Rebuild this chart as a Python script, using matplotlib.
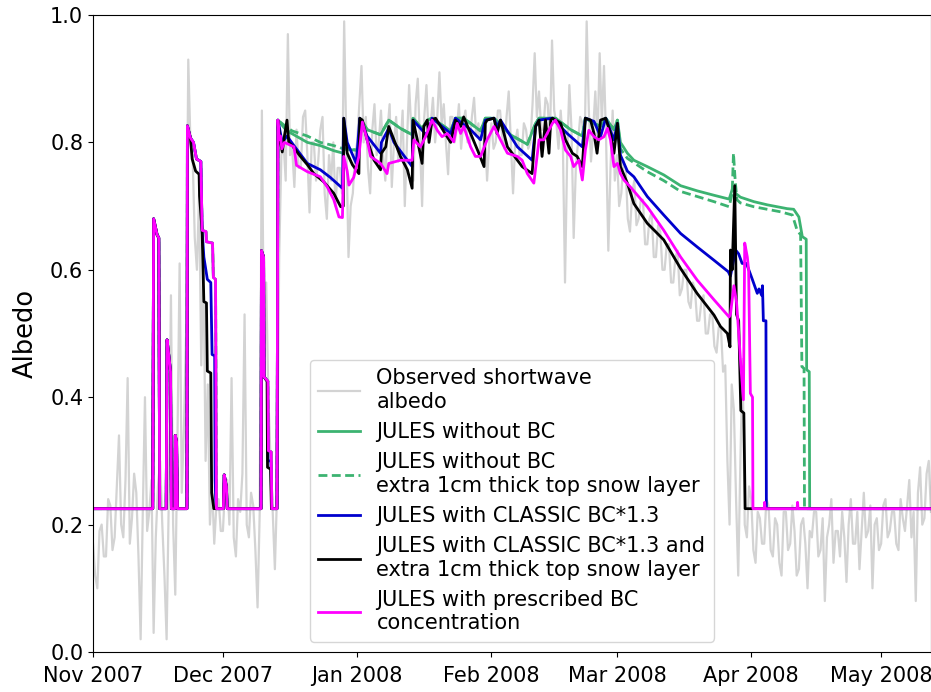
import numpy as np
import pandas as pd
import matplotlib
matplotlib.use("Agg")
import matplotlib.pyplot as plt
import matplotlib.dates as mdates

start = pd.Timestamp("2007-11-01")
x_end = 193.4  # days after start
B = 0.225      # snow-free surface albedo

# observed shortwave albedo, two values per day from 1 Nov 2007
obs_alb = [
    0.17, 0.12, 0.10, 0.19, 0.20, 0.15, 0.15, 0.24, 0.23, 0.16,
    0.18, 0.26, 0.34, 0.20, 0.18, 0.27, 0.43, 0.17, 0.21, 0.28,
    0.25, 0.15, 0.02, 0.22, 0.40, 0.19, 0.22, 0.27, 0.03, 0.18,
    0.26, 0.30, 0.20, 0.12, 0.02, 0.24, 0.56, 0.20, 0.09, 0.33,
    0.61, 0.25, 0.35, 0.50, 0.93, 0.80, 0.78, 0.65, 0.60, 0.72,
    0.45, 0.62, 0.30, 0.42, 0.20, 0.26, 0.17, 0.23, 0.24, 0.19,
    0.19, 0.26, 0.27, 0.20, 0.43, 0.18, 0.15, 0.24, 0.22, 0.28,
    0.53, 0.20, 0.18, 0.25, 0.23, 0.16, 0.07, 0.22, 0.85, 0.45,
    0.58, 0.40, 0.30, 0.22, 0.13, 0.25, 0.62, 0.78, 0.80, 0.74,
    0.97, 0.78, 0.79, 0.73, 0.82, 0.76, 0.76, 0.84, 0.85, 0.78,
    0.69, 0.80, 0.80, 0.74, 0.77, 0.82, 0.84, 0.72, 0.68, 0.78,
    0.74, 0.80, 0.70, 0.76, 0.76, 0.72, 0.99, 0.80, 0.62, 0.70,
    0.72, 0.78, 0.80, 0.86, 0.92, 0.80, 0.84, 0.76, 0.72, 0.82,
    0.86, 0.78, 0.80, 0.85, 0.78, 0.74, 0.82, 0.86, 0.73, 0.80,
    0.84, 0.77, 0.79, 0.85, 0.70, 0.80, 0.89, 0.82, 0.74, 0.86,
    0.90, 0.80, 0.70, 0.84, 0.89, 0.81, 0.83, 0.87, 0.80, 0.84,
    0.91, 0.83, 0.86, 0.80, 0.75, 0.84, 0.84, 0.80, 0.82, 0.86,
    0.79, 0.83, 0.85, 0.80, 0.80, 0.84, 0.87, 0.81, 0.83, 0.78,
    0.78, 0.82, 0.74, 0.80, 0.83, 0.79, 0.80, 0.85, 0.85, 0.81,
    0.79, 0.84, 0.88, 0.80, 0.72, 0.80, 0.82, 0.78, 0.78, 0.83,
    0.82, 0.79, 0.80, 0.86, 0.94, 0.84, 0.88, 0.82, 0.82, 0.87,
    0.86, 0.80, 0.96, 0.85, 0.83, 0.79, 0.85, 0.80, 0.58, 0.78,
    0.89, 0.82, 0.65, 0.76, 0.80, 0.84, 0.83, 0.78, 0.99, 0.85,
    0.77, 0.82, 0.88, 0.80, 0.94, 0.83, 0.92, 0.80, 0.63, 0.76,
    0.85, 0.74, 0.78, 0.70, 0.72, 0.77, 0.76, 0.68, 0.66, 0.72,
    0.74, 0.67, 0.68, 0.71, 0.71, 0.64, 0.64, 0.68, 0.69, 0.62,
    0.62, 0.67, 0.66, 0.60, 0.60, 0.64, 0.64, 0.58, 0.58, 0.62,
    0.63, 0.56, 0.57, 0.60, 0.60, 0.55, 0.54, 0.58, 0.57, 0.52,
    0.52, 0.55, 0.56, 0.50, 0.50, 0.53, 0.53, 0.48, 0.47, 0.51,
    0.51, 0.44, 0.45, 0.30, 0.20, 0.42, 0.38, 0.24, 0.12, 0.30,
    0.46, 0.20, 0.18, 0.26, 0.24, 0.16, 0.14, 0.22, 0.21, 0.17,
    0.17, 0.24, 0.23, 0.16, 0.15, 0.21, 0.20, 0.14, 0.12, 0.22,
    0.22, 0.16, 0.17, 0.23, 0.19, 0.12, 0.13, 0.20, 0.21, 0.17,
    0.10, 0.19, 0.18, 0.22, 0.22, 0.15, 0.16, 0.21, 0.08, 0.18,
    0.20, 0.24, 0.14, 0.19, 0.19, 0.15, 0.22, 0.18, 0.11, 0.20,
    0.24, 0.17, 0.17, 0.22, 0.13, 0.19, 0.25, 0.18, 0.19, 0.23,
    0.10, 0.20, 0.21, 0.16, 0.17, 0.23, 0.24, 0.18, 0.19, 0.22,
    0.22, 0.17, 0.16, 0.24, 0.21, 0.19, 0.23, 0.27, 0.18, 0.22,
    0.08, 0.25, 0.29, 0.20, 0.21, 0.28, 0.30, 0.22,
]

# model runs as (day, albedo) breakpoints
# early November snowfalls, identical in every run
nov_pulses = [
    (0.0, B), (13.8, B), (14.0, 0.68), (14.8, 0.655), (15.2, 0.65), (15.4, B),
    (16.9, B), (17.1, 0.49), (17.6, 0.46), (17.9, 0.44), (18.1, B),
    (18.9, B), (19.0, 0.34), (19.3, 0.33), (19.5, B),
]

# late Nov / mid Dec events for the runs with less darkening
late_nov = [
    (21.7, B), (21.8, 0.826), (22.5, 0.807), (23.2, 0.80), (23.9, 0.774),
    (24.9, 0.77), (25.2, 0.662), (26.1, 0.66), (26.2, 0.644), (27.6, 0.642),
    (27.8, 0.588), (28.3, 0.585), (28.5, B), (30.1, B), (30.3, 0.278),
    (30.8, 0.26), (31.0, B),
    (38.8, B), (38.9, 0.63), (39.4, 0.62), (39.5, 0.432), (40.4, 0.425),
    (40.5, 0.316), (41.15, 0.314), (41.3, B),
]

nobc_winter = [
    (42.5, B), (42.7, 0.835), (44.5, 0.82), (45.6, 0.815), (49.5, 0.80),
    (52.5, 0.795), (55.6, 0.787), (57.8, 0.783), (58.0, 0.79), (61.4, 0.787),
]
nobc_1cm_winter = [
    (42.5, B), (42.7, 0.835), (44.5, 0.825), (46.0, 0.818), (49.5, 0.81),
    (52.5, 0.80), (55.6, 0.795), (57.8, 0.79), (61.4, 0.788),
]

# Jan - Feb, shared by both runs without BC
nobc_mid = [
    (62.0, 0.835), (63.3, 0.82), (66.4, 0.812), (67.9, 0.83), (68.3, 0.835),
    (71.0, 0.822), (73.7, 0.812), (73.9, 0.838), (76.0, 0.822), (77.2, 0.835),
    (78.3, 0.838), (82.6, 0.818), (83.7, 0.838), (85.6, 0.838), (89.5, 0.818),
    (90.6, 0.838), (92.6, 0.838), (96.4, 0.812), (100.3, 0.797), (102.2, 0.83),
    (103.0, 0.838), (106.8, 0.838), (110.3, 0.82), (113.0, 0.81),
    (113.7, 0.838), (115.7, 0.83), (117.2, 0.825), (118.4, 0.838),
    (120.3, 0.82), (121.1, 0.835),
]

nobc_spring = [
    (121.8, 0.80), (123.4, 0.783), (124.9, 0.772), (128.0, 0.762),
    (131.8, 0.749), (135.7, 0.732), (139.5, 0.724), (143.4, 0.717),
    (146.9, 0.711), (147.8, 0.73), (148.4, 0.72), (149.5, 0.714),
    (152.6, 0.707), (155.7, 0.702), (160.3, 0.696), (161.8, 0.695),
    (163.0, 0.683), (163.8, 0.652), (164.7, 0.648), (164.8, 0.443),
    (165.4, 0.44), (165.5, B), (193.5, B),
]
nobc_1cm_spring = [
    (121.8, 0.79), (123.4, 0.775), (128.0, 0.754), (131.8, 0.74),
    (135.7, 0.723), (143.4, 0.707), (146.9, 0.699), (147.6, 0.72),
    (147.9, 0.783), (148.3, 0.74), (148.7, 0.71), (149.5, 0.705),
    (152.6, 0.699), (158.8, 0.691), (161.5, 0.686), (162.6, 0.662),
    (163.4, 0.655), (163.7, 0.448), (164.2, 0.445), (164.3, B), (193.5, B),
]

bc13_run = [
    (21.7, B), (21.8, 0.826), (22.5, 0.807), (23.2, 0.80), (23.9, 0.774),
    (24.9, 0.77), (25.2, 0.662), (25.6, 0.62), (26.4, 0.585), (27.2, 0.58),
    (27.5, 0.467), (28.1, 0.465), (28.2, 0.27), (28.4, B),
    (30.1, B), (30.3, 0.278), (30.8, 0.26), (31.0, B),
    (38.8, B), (38.9, 0.63), (39.4, 0.62), (39.5, 0.432), (40.3, 0.425),
    (40.4, 0.30), (41.1, 0.30), (41.25, B),
    (42.5, B), (42.7, 0.835), (43.7, 0.80), (44.8, 0.81), (46.4, 0.795),
    (49.5, 0.767), (52.5, 0.757), (54.8, 0.745), (57.6, 0.728), (57.9, 0.838),
    (58.7, 0.80), (60.8, 0.767), (61.6, 0.838), (63.3, 0.81), (66.4, 0.783),
    (66.6, 0.80), (68.3, 0.822), (69.5, 0.80), (73.7, 0.762), (73.9, 0.835),
    (77.2, 0.81), (78.3, 0.838), (82.6, 0.814), (83.7, 0.838), (87.2, 0.82),
    (89.5, 0.804), (90.6, 0.835), (92.6, 0.838), (93.3, 0.825), (94.1, 0.835),
    (98.0, 0.793), (101.4, 0.772), (102.2, 0.825), (103.0, 0.835),
    (106.1, 0.838), (109.5, 0.814), (113.0, 0.793), (113.7, 0.838),
    (115.7, 0.833), (117.2, 0.809), (118.4, 0.838), (120.3, 0.804),
    (121.1, 0.83), (121.8, 0.78), (123.4, 0.755), (124.9, 0.746),
    (128.0, 0.715), (131.8, 0.686), (135.7, 0.657), (139.5, 0.636),
    (143.4, 0.615), (146.7, 0.597), (147.2, 0.59), (148.4, 0.631),
    (149.1, 0.625), (149.9, 0.61), (150.9, 0.61), (152.2, 0.586),
    (153.4, 0.563), (153.8, 0.57), (154.4, 0.56), (154.6, 0.575),
    (154.8, 0.52), (155.4, 0.52), (155.5, B), (193.5, B),
]

bc13_1cm_run = [
    (21.7, B), (21.8, 0.826), (22.5, 0.807), (22.9, 0.774), (23.7, 0.755),
    (24.5, 0.75), (24.6, 0.716), (25.2, 0.66), (25.6, 0.55), (26.2, 0.548),
    (26.4, 0.441), (27.2, 0.438), (27.4, 0.25), (27.9, B),
    (30.1, B), (30.3, 0.278), (30.8, 0.26), (31.0, B),
    (38.8, B), (38.9, 0.63), (39.4, 0.62), (39.5, 0.432), (40.2, 0.425),
    (40.3, 0.29), (41.0, 0.287), (41.2, B),
    (42.5, B), (42.7, 0.835), (43.3, 0.80), (43.7, 0.785), (44.2, 0.81),
    (44.8, 0.835), (45.2, 0.80), (46.0, 0.795), (47.9, 0.778), (49.5, 0.765),
    (51.0, 0.751), (53.3, 0.738), (55.6, 0.72), (57.2, 0.699), (57.8, 0.70),
    (57.9, 0.838), (58.7, 0.783), (59.9, 0.765), (61.4, 0.751), (61.6, 0.838),
    (62.2, 0.835), (63.3, 0.804), (64.9, 0.772), (66.4, 0.757), (66.6, 0.783),
    (67.6, 0.793), (68.3, 0.825), (69.5, 0.804), (71.0, 0.778), (72.6, 0.757),
    (73.7, 0.728), (73.9, 0.835), (74.9, 0.804), (76.0, 0.767), (76.4, 0.825),
    (77.2, 0.835), (77.6, 0.80), (78.3, 0.835), (79.1, 0.838), (80.3, 0.825),
    (81.8, 0.809), (82.6, 0.80), (83.7, 0.835), (84.9, 0.825), (85.6, 0.84),
    (87.2, 0.814), (89.1, 0.783), (90.3, 0.762), (90.6, 0.83), (91.0, 0.835),
    (92.6, 0.838), (93.3, 0.814), (94.1, 0.835), (94.9, 0.814), (95.7, 0.793),
    (98.0, 0.772), (99.1, 0.762), (101.4, 0.751), (102.2, 0.825),
    (103.0, 0.835), (103.7, 0.778), (104.5, 0.835), (105.3, 0.783),
    (105.7, 0.835), (106.1, 0.838), (108.0, 0.830), (109.1, 0.804),
    (110.7, 0.783), (111.8, 0.778), (113.0, 0.762), (113.7, 0.838),
    (114.9, 0.835), (115.7, 0.814), (116.4, 0.783), (117.2, 0.835),
    (118.4, 0.838), (119.5, 0.814), (120.3, 0.783), (121.1, 0.830),
    (121.8, 0.762), (123.4, 0.736), (124.9, 0.704), (128.0, 0.673),
    (131.8, 0.647), (135.7, 0.602), (139.5, 0.563), (143.4, 0.529),
    (144.9, 0.511), (146.5, 0.50), (147.1, 0.479), (147.2, 0.631),
    (147.6, 0.60), (148.2, 0.732), (148.6, 0.53), (149.1, 0.52),
    (149.6, 0.379), (150.3, 0.375), (150.6, B), (193.5, B),
]

presc_winter = [
    (42.5, B), (42.7, 0.835), (43.0, 0.805), (43.3, 0.81), (43.6, 0.79),
    (44.2, 0.80), (46.4, 0.793), (47.0, 0.764), (49.5, 0.754), (52.5, 0.746),
    (54.1, 0.73), (55.6, 0.71), (56.8, 0.683), (57.6, 0.682), (57.9, 0.778),
    (58.7, 0.755), (59.1, 0.733), (60.2, 0.745), (61.4, 0.778), (62.2, 0.832),
    (63.3, 0.804), (64.1, 0.778), (66.4, 0.767), (67.9, 0.751), (68.3, 0.767),
    (71.0, 0.772), (73.7, 0.772), (74.1, 0.804), (75.6, 0.793), (76.8, 0.809),
    (78.3, 0.835), (79.5, 0.819), (80.6, 0.809), (81.8, 0.814), (83.3, 0.801),
    (84.1, 0.83), (84.9, 0.814), (85.6, 0.825), (87.2, 0.793), (88.3, 0.778),
    (89.5, 0.778), (91.0, 0.804), (92.6, 0.825), (94.1, 0.804), (95.7, 0.783),
    (98.0, 0.778), (99.1, 0.772), (100.3, 0.751), (101.8, 0.736),
    (103.0, 0.804), (104.1, 0.804), (106.1, 0.83), (106.8, 0.835),
    (108.0, 0.819), (109.1, 0.788), (110.3, 0.778), (111.0, 0.762),
    (112.2, 0.772), (113.0, 0.741), (113.7, 0.788), (114.5, 0.819),
    (115.7, 0.809), (116.8, 0.804), (118.0, 0.809), (118.8, 0.822),
    (119.5, 0.804), (120.3, 0.762), (121.1, 0.767), (121.8, 0.751),
    (122.6, 0.741), (124.1, 0.73), (128.0, 0.699), (131.8, 0.662),
    (135.7, 0.62), (139.5, 0.584), (143.4, 0.553), (146.9, 0.526),
    (147.2, 0.53), (148.0, 0.575), (148.6, 0.55), (149.1, 0.502),
    (149.6, 0.45), (150.2, 0.396), (150.5, 0.642), (151.1, 0.62),
    (151.4, 0.60), (151.8, 0.406), (152.3, 0.40), (152.4, B),
    (155.0, B), (155.1, 0.235), (155.2, B), (162.6, B), (162.7, 0.235),
    (162.8, B), (193.5, B),
]

labels = [
    "Observed shortwave\nalbedo",
    "JULES without BC",
    "JULES without BC\nextra 1cm thick top snow layer",
    "JULES with CLASSIC BC*1.3",
    "JULES with CLASSIC BC*1.3 and\nextra 1cm thick top snow layer",
    "JULES with prescribed BC\nconcentration",
]


def to_dates(days):
    return start + pd.to_timedelta(np.asarray(days, dtype=float), unit="D")


def unpack(points):
    d, a = zip(*points)
    return to_dates(d), np.array(a)


runs = [
    (nov_pulses + late_nov + nobc_winter + nobc_mid + nobc_spring,
     dict(color="#3CB371", ls="-")),
    (nov_pulses + late_nov + nobc_1cm_winter + nobc_mid + nobc_1cm_spring,
     dict(color="#3CB371", ls=(0, (3.2, 1.6)))),
    (nov_pulses + bc13_run, dict(color="#0000CD", ls="-")),
    (nov_pulses + bc13_1cm_run, dict(color="black", ls="-")),
    (nov_pulses + late_nov + presc_winter, dict(color="#FF00FF", ls="-")),
]

plt.rcParams["font.family"] = ["DejaVu Sans"]
fig = plt.figure(figsize=(9.31, 6.92), dpi=100)
ax = fig.add_axes([93 / 931, 40 / 692, 837.5 / 931, 637 / 692])

obs_days = np.arange(len(obs_alb)) / 2.0
ax.plot(to_dates(obs_days), obs_alb, color="#D3D3D3", lw=1.6, label=labels[0])
for (pts, style), lab in zip(runs, labels[1:]):
    t, a = unpack(pts)
    ax.plot(t, a, lw=2.0, label=lab, **style)

ax.set_xlim(start, start + pd.Timedelta(days=x_end))
ax.set_ylim(0, 1.0)
ax.set_yticks(np.arange(0, 1.01, 0.2))
ax.xaxis.set_major_locator(mdates.MonthLocator())
ax.xaxis.set_major_formatter(mdates.DateFormatter("%b %Y"))
ax.tick_params(labelsize=15)
ax.tick_params(axis="x", pad=6.5)
ax.set_ylabel("Albedo", fontsize=18.5, labelpad=8)

ax.legend(loc="lower center", fontsize=15, handlelength=2.0)

fig.savefig("out.png", dpi=100)
